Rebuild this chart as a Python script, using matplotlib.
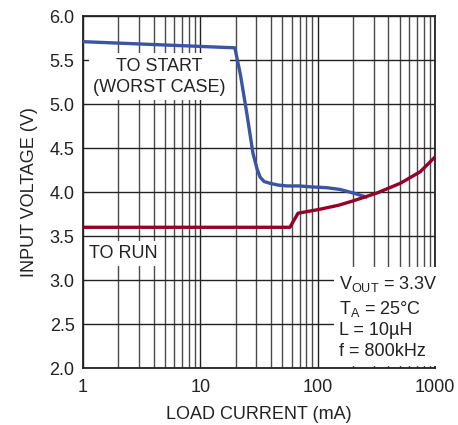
import matplotlib.pyplot as plt
from matplotlib.ticker import FixedLocator, NullFormatter

# Data
start_current = [1, 19.7, 22, 25, 28.1, 30.5, 32.3, 35, 39.3, 46, 54.8, 70, 86, 120, 155, 200, 265]
start_voltage = [5.71, 5.64, 5.33, 4.88, 4.44, 4.26, 4.17, 4.12, 4.10, 4.08, 4.07, 4.07, 4.06, 4.05, 4.03, 3.99, 3.94]

run_current = [1, 58, 68, 100, 150, 200, 320, 505, 745, 1000]
run_voltage = [3.6, 3.6, 3.76, 3.8, 3.85, 3.9, 3.99, 4.10, 4.23, 4.40]

x_ticks = [1, 10, 100, 1000]
x_labels = ['1', '10', '100', '1000']
y_ticks = [2.0, 2.5, 3.0, 3.5, 4.0, 4.5, 5.0, 5.5, 6.0]

plt.rcParams['font.family'] = ['Liberation Sans', 'DejaVu Sans']
ink = '#222222'
fs = 13

fig = plt.figure(figsize=(4.58, 4.25), dpi=100)
ax = fig.add_axes([0.181, 0.134, 0.769, 0.828])

ax.set_xscale('log')
ax.set_xlim(1, 1000)
ax.set_ylim(2.0, 6.0)

# grid: decades and half-volts
ax.set_xticks(x_ticks)
ax.set_xticklabels(x_labels)
minor = [m * d for d in [1, 10, 100] for m in range(2, 10)]
ax.xaxis.set_minor_locator(FixedLocator(minor))
ax.xaxis.set_minor_formatter(NullFormatter())
ax.set_yticks(y_ticks)
ax.set_yticklabels([f'{v:.1f}' for v in y_ticks])
ax.grid(True, which='major', color=ink, linewidth=1.0)
ax.grid(True, which='minor', axis='x', color='#4a4a4a', linewidth=1.0)
ax.tick_params(which='both', length=0, labelsize=fs, labelcolor=ink)
ax.tick_params(axis='x', pad=8)
ax.tick_params(axis='y', pad=6)
for s in ax.spines.values():
    s.set_color(ink)
    s.set_linewidth(1.3)

ax.plot(start_current, start_voltage, color='#3a55a6', linewidth=2.4, solid_capstyle='butt', zorder=5)
ax.plot(run_current, run_voltage, color='#960028', linewidth=2.4, solid_capstyle='butt', zorder=5)

white = dict(facecolor='white', edgecolor='none', pad=3)
ax.text(4.5, 5.31, 'TO START\n(WORST CASE)', ha='center', va='center', fontsize=fs,
        linespacing=1.35, color=ink, bbox=white, zorder=4)
ax.text(1.13, 3.30, 'TO RUN', ha='left', va='center', fontsize=fs,
        color=ink, bbox=white, zorder=4)
ax.text(0.728, 0.022, '$\\mathregular{V_{OUT}}$ = 3.3V\n$\\mathregular{T_A}$ = 25°C\nL = 10µH\nf = 800kHz',
        transform=ax.transAxes, ha='left', va='bottom', fontsize=fs, linespacing=1.3,
        color=ink, bbox=dict(facecolor='white', edgecolor='none', pad=4), zorder=4)

ax.set_xlabel('LOAD CURRENT (mA)', fontsize=fs, color=ink, labelpad=7)
ax.set_ylabel('INPUT VOLTAGE (V)', fontsize=fs, color=ink, labelpad=8)

fig.savefig('out.png', dpi=100)
